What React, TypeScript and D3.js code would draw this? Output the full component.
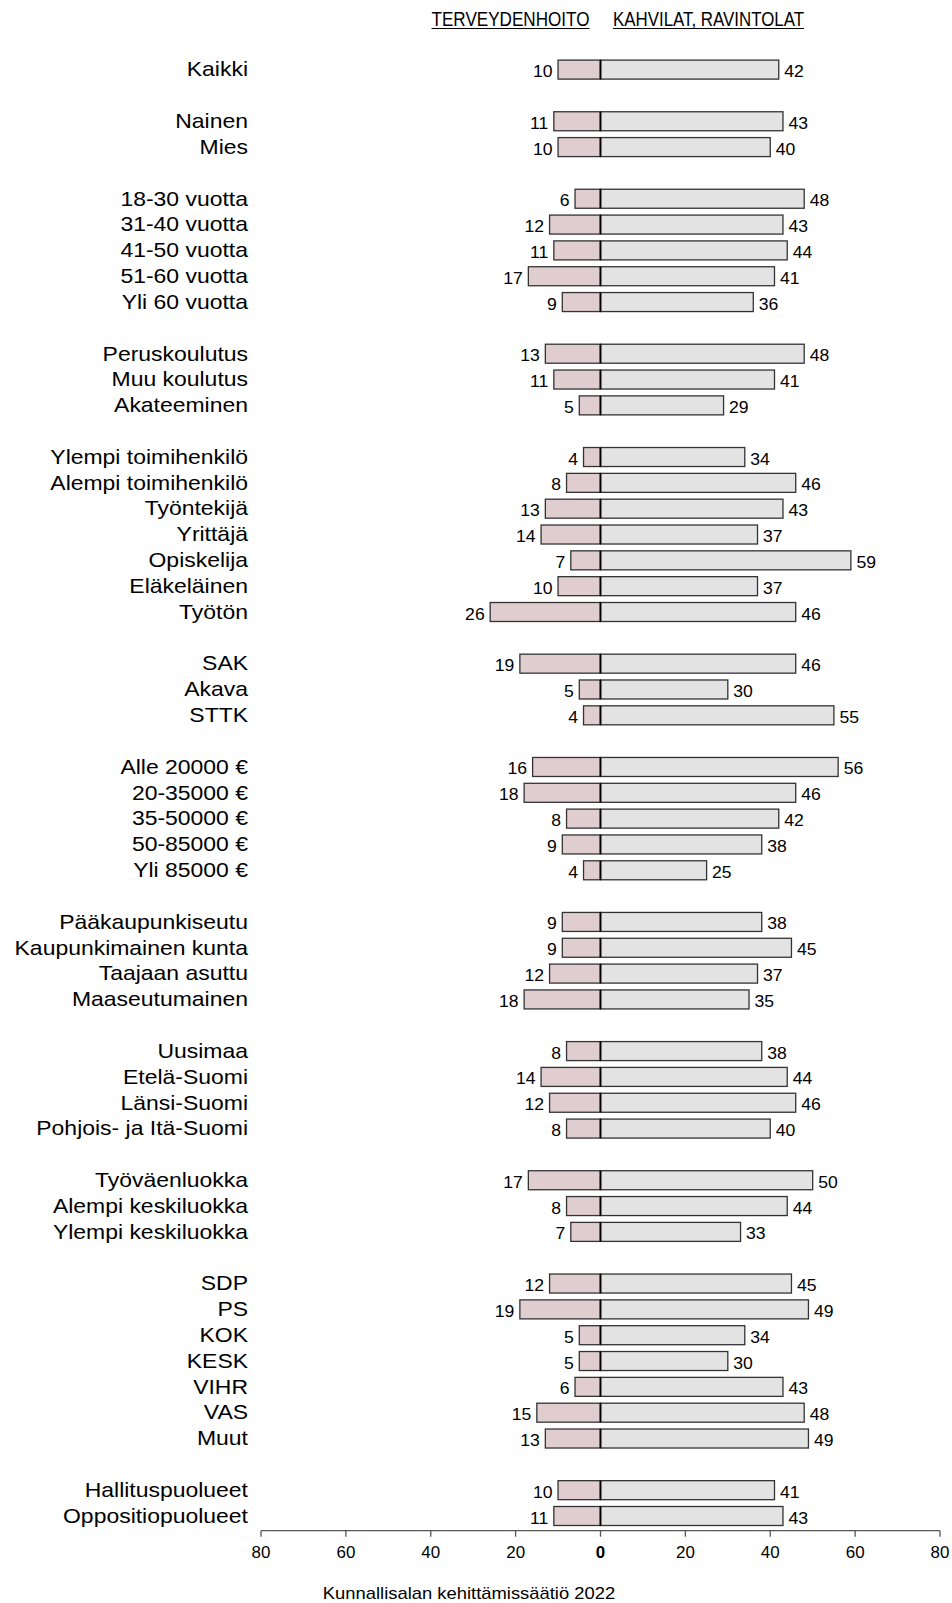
import React from "react";
import * as d3 from "d3";

// Category rows ("" = blank spacer row between groups)
const categories: string[] = [
  "Kaikki", "",
  "Nainen", "Mies", "",
  "18-30 vuotta", "31-40 vuotta", "41-50 vuotta", "51-60 vuotta", "Yli 60 vuotta", "",
  "Peruskoulutus", "Muu koulutus", "Akateeminen", "",
  "Ylempi toimihenkilö", "Alempi toimihenkilö", "Työntekijä", "Yrittäjä", "Opiskelija", "Eläkeläinen", "Työtön", "",
  "SAK", "Akava", "STTK", "",
  "Alle 20000 €", "20-35000 €", "35-50000 €", "50-85000 €", "Yli 85000 €", "",
  "Pääkaupunkiseutu", "Kaupunkimainen kunta", "Taajaan asuttu", "Maaseutumainen", "",
  "Uusimaa", "Etelä-Suomi", "Länsi-Suomi", "Pohjois- ja Itä-Suomi", "",
  "Työväenluokka", "Alempi keskiluokka", "Ylempi keskiluokka", "",
  "SDP", "PS", "KOK", "KESK", "VIHR", "VAS", "Muut", "",
  "Hallituspuolueet", "Oppositiopuolueet",
];

// TERVEYDENHOITO (left side)
const healthcare: (number | null)[] = [
  10, null,
  11, 10, null,
  6, 12, 11, 17, 9, null,
  13, 11, 5, null,
  4, 8, 13, 14, 7, 10, 26, null,
  19, 5, 4, null,
  16, 18, 8, 9, 4, null,
  9, 9, 12, 18, null,
  8, 14, 12, 8, null,
  17, 8, 7, null,
  12, 19, 5, 5, 6, 15, 13, null,
  10, 11,
];

// KAHVILAT, RAVINTOLAT (right side)
const cafes: (number | null)[] = [
  42, null,
  43, 40, null,
  48, 43, 44, 41, 36, null,
  48, 41, 29, null,
  34, 46, 43, 37, 59, 37, 46, null,
  46, 30, 55, null,
  56, 46, 42, 38, 25, null,
  38, 45, 37, 35, null,
  38, 44, 46, 40, null,
  50, 44, 33, null,
  45, 49, 34, 30, 43, 48, 49, null,
  41, 43,
];

const tickValues: number[] = [-80, -60, -40, -20, 0, 20, 40, 60, 80];
const leftTitle = "TERVEYDENHOITO";
const rightTitle = "KAHVILAT, RAVINTOLAT";
const footer = "Kunnallisalan kehittämissäätiö 2022";

const W = 952;
const H = 1603;
const FONT = "'Liberation Sans', Arial, Helvetica, sans-serif";

export default function App() {
  const x = d3.scaleLinear().domain([-80, 80]).range([261, 940]);
  const n = categories.length;
  const y = d3.scaleLinear().domain([0, n - 1]).range([69.6, 1516]);
  const barH = 19;
  const axisY = 1530.7;
  const labelX = 248;
  const zero = x(0);

  return (
    <svg
      width={W}
      height={H}
      viewBox={`0 0 ${W} ${H}`}
      style={{ position: "absolute", left: 0, top: 0, display: "block", background: "#fff" }}
      fontFamily={FONT}
    >
      {/* Column titles */}
      <text x={zero - 11} y={26} fontSize={20} textAnchor="end" textLength={158} lengthAdjust="spacingAndGlyphs" fill="#000">
        {leftTitle}
      </text>
      <line x1={zero - 169} x2={zero - 11} y1={28.5} y2={28.5} stroke="#000" strokeWidth={1} />
      <text x={zero + 12.5} y={26} fontSize={20} textAnchor="start" textLength={191} lengthAdjust="spacingAndGlyphs" fill="#000">
        {rightTitle}
      </text>
      <line x1={zero + 12.5} x2={zero + 203.5} y1={28.5} y2={28.5} stroke="#000" strokeWidth={1} />

      {categories.map((c, i) => {
        const h = healthcare[i];
        const k = cafes[i];
        if (!c || h == null || k == null) return null;
        const cy = y(i);
        return (
          <g key={i}>
            <text
              transform={`translate(${labelX},${cy + 6.8}) scale(1.12,1)`}
              textAnchor="end"
              fontSize={20.5}
              fill="#000"
            >
              {c}
            </text>
            <rect
              x={x(-h)}
              y={cy - barH / 2}
              width={zero - x(-h)}
              height={barH}
              fill="#e0cdd0"
              stroke="#333"
              strokeWidth={1.3}
            />
            <rect
              x={zero}
              y={cy - barH / 2}
              width={x(k) - zero}
              height={barH}
              fill="#e3e3e3"
              stroke="#333"
              strokeWidth={1.3}
            />
            <line x1={zero} x2={zero} y1={cy - barH / 2} y2={cy + barH / 2} stroke="#000" strokeWidth={1.8} />
            <text
              transform={`translate(${x(-h) - 5.5},${cy + 7.5}) scale(1.1,1)`}
              textAnchor="end"
              fontSize={16}
              fill="#000"
            >
              {h}
            </text>
            <text
              transform={`translate(${x(k) + 5.5},${cy + 7.5}) scale(1.1,1)`}
              textAnchor="start"
              fontSize={16}
              fill="#000"
            >
              {k}
            </text>
          </g>
        );
      })}

      {/* Axis */}
      <line x1={x(-80)} x2={x(80)} y1={axisY} y2={axisY} stroke="#555" strokeWidth={1.3} />
      {tickValues.map((t) => (
        <g key={t}>
          <line x1={x(t)} x2={x(t)} y1={axisY} y2={axisY + 6} stroke="#555" strokeWidth={1.3} />
          <text
            transform={`translate(${x(t)},${1557.5}) scale(1.06,1)`}
            textAnchor="middle"
            fontSize={16}
            fontWeight={t === 0 ? "bold" : "normal"}
            fill="#000"
          >
            {Math.abs(t)}
          </text>
        </g>
      ))}

      <text transform={`translate(469,1599) scale(1.15,1)`} textAnchor="middle" fontSize={16} fill="#000">
        {footer}
      </text>
    </svg>
  );
}
